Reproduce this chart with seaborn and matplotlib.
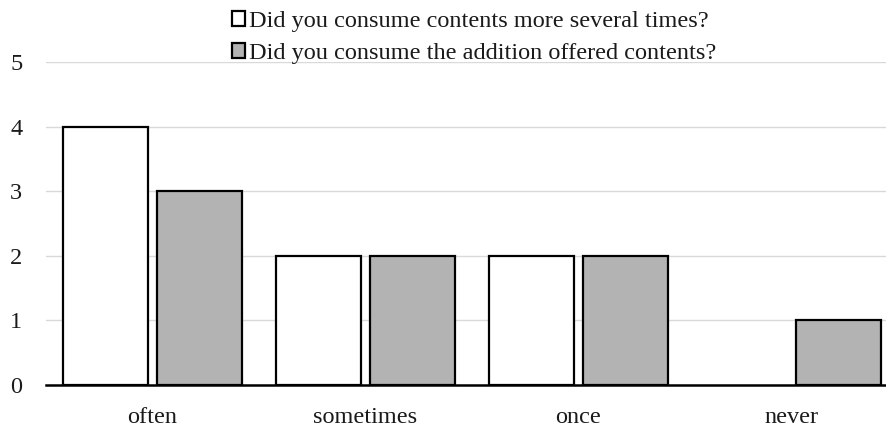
import matplotlib
matplotlib.use("Agg")
import matplotlib.pyplot as plt
import seaborn as sns
import pandas as pd
from matplotlib.patches import Patch

categories = ["often", "sometimes", "once", "never"]
series_names = [
    "Did you consume contents more several times?",
    "Did you consume the addition offered contents?",
]
several_times = [4, 2, 2, 0]
additional = [3, 2, 2, 1]
yticks = [0, 1, 2, 3, 4, 5]

df = pd.DataFrame({
    "answer": categories * 2,
    "question": [series_names[0]] * 4 + [series_names[1]] * 4,
    "count": several_times + additional,
})

sns.set_theme(style="white")
plt.rcParams["font.family"] = ["Liberation Serif", "DejaVu Serif"]

fig = plt.figure(figsize=(8.86, 4.28), dpi=100)
ax = fig.add_axes([46 / 886, 1 - 385 / 428, 840 / 886, (385 - 62) / 428])

palette = {series_names[0]: "#ffffff", series_names[1]: "#b3b3b3"}
sns.barplot(data=df, x="answer", y="count", hue="question", order=categories,
            hue_order=series_names, palette=palette, width=0.882, gap=0.095,
            edgecolor="black", linewidth=1.6, saturation=1, ax=ax, legend=False,
            zorder=3)

# empty bars carry no outline
for p in ax.patches:
    if p.get_height() == 0:
        p.set_linewidth(0)

ax.set_xlim(-0.5, -0.5 + 840 / 213)
ax.set_ylim(0, 5)
ax.set_yticks(yticks)
ax.yaxis.grid(True, color="#d9d9d9", linewidth=1.0, zorder=0)
ax.set_axisbelow(True)
for s in ["left", "right", "top"]:
    ax.spines[s].set_visible(False)
ax.spines["bottom"].set_color("black")
ax.spines["bottom"].set_linewidth(1.8)
ax.spines["bottom"].set_zorder(4)
ax.tick_params(axis="both", length=0, labelsize=17.5, colors="#1a1a1a")
ax.tick_params(axis="x", pad=16)
ax.tick_params(axis="y", pad=17)
ax.set_xlabel("")
ax.set_ylabel("")

handles = [Patch(facecolor=palette[n], edgecolor="black", linewidth=1.6) for n in series_names]
fig.legend(handles, series_names, loc="upper center", bbox_to_anchor=(0.535, 1.0),
           frameon=False, fontsize=17.5, handlelength=0.55, handleheight=0.55,
           handletextpad=0.15, labelspacing=0.45, borderaxespad=0.05,
           labelcolor="#1a1a1a")

fig.savefig("out.png", dpi=100)
